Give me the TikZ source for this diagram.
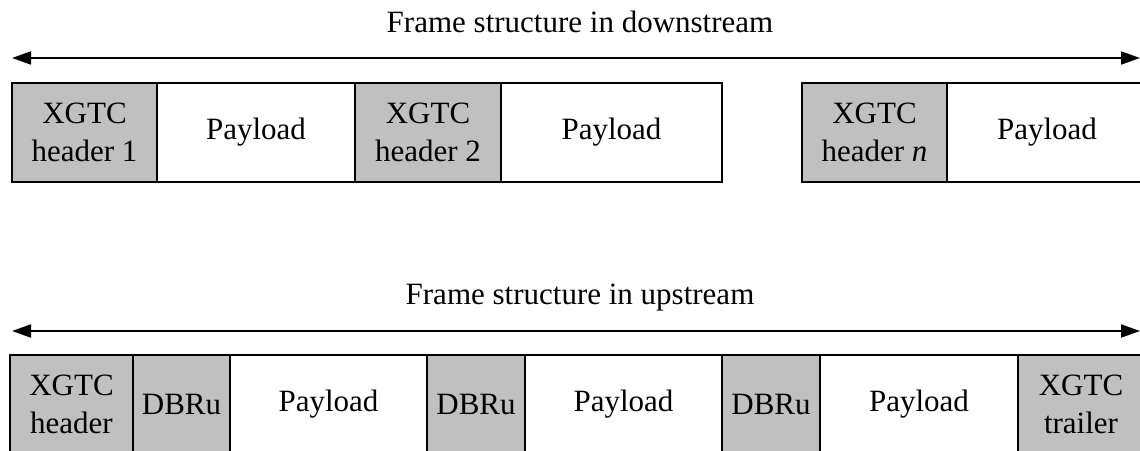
\documentclass[tikz,border=0pt]{standalone}
\usepackage{fontspec}
\setmainfont{Liberation Serif}
\usetikzlibrary{arrows.meta}
\definecolor{boxgray}{RGB}{192,192,192}
\begin{document}
\begin{tikzpicture}[x=1pt,y=1pt,
  fld/.style={draw=black, line width=1.6pt, rectangle, inner sep=0pt, minimum height=99pt,
    align=center, font=\fontsize{31}{38}\selectfont},
  gfld/.style={fld, fill=boxgray},
  wfld/.style={fld, fill=white},
  title/.style={anchor=base, font=\fontsize{31}{38}\selectfont},
  tip/.style={Triangle[length=19pt,width=13pt]},
  span/.style={line width=1.8pt, {Triangle[length=19pt,width=13pt]}-{Triangle[length=19pt,width=13pt]}}]
\useasboundingbox (0,0) rectangle (1140,450);
\clip (0,0) rectangle (1140,450);
% downstream
\node[title] (t1) at (580,417) {Frame structure in downstream};
\coordinate (d-left) at (12,392);
\coordinate (d-right) at (1140,392);
\draw[span] (d-left) -- (d-right);
\node[gfld, minimum width=145pt] (h1) at (84.5,317.5) {XGTC\\header 1};
\node[wfld, minimum width=198pt] (p1) at (256,317.5) {Payload};
\node[gfld, minimum width=146pt] (h2) at (428,317.5) {XGTC\\header 2};
\node[wfld, minimum width=221pt] (p2) at (611.5,317.5) {Payload};
\node[gfld, minimum width=145pt] (hn) at (874.5,317.5) {XGTC\\header \textit{n}};
\node[wfld, minimum width=200pt] (pn) at (1047,317.5) {Payload};
% upstream
\node[title] (t2) at (580,146) {Frame structure in upstream};
\coordinate (u-left) at (12,119);
\coordinate (u-right) at (1140,119);
\draw[span] (u-left) -- (u-right);
\node[gfld, minimum width=123pt] (uh) at (71.5,45.5) {XGTC\\header};
\node[gfld, minimum width=97pt] (d1) at (181.5,45.5) {DBRu};
\node[wfld, minimum width=197pt] (up1) at (328.5,45.5) {Payload};
\node[gfld, minimum width=98pt] (d2) at (476,45.5) {DBRu};
\node[wfld, minimum width=197pt] (up2) at (623.5,45.5) {Payload};
\node[gfld, minimum width=98pt] (d3) at (771,45.5) {DBRu};
\node[wfld, minimum width=198pt] (up3) at (919,45.5) {Payload};
\node[gfld, minimum width=126pt] (ut) at (1081,45.5) {XGTC\\trailer};
\end{tikzpicture}
\end{document}
